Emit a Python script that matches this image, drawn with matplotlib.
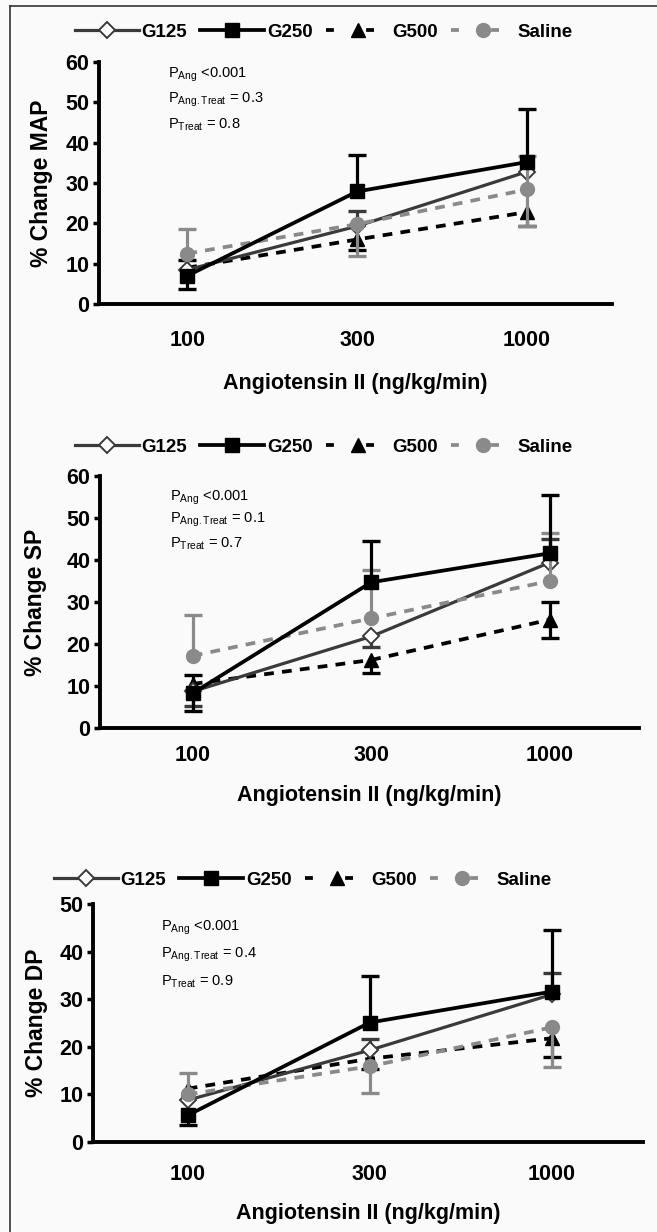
import matplotlib
matplotlib.use('Agg')
import matplotlib.pyplot as plt
from matplotlib.lines import Line2D

plt.rcParams['font.family'] = ['Liberation Sans', 'DejaVu Sans']
plt.rcParams['mathtext.default'] = 'regular'

# ---------------- data ----------------
doses = ['100', '300', '1000']
series = ['G125', 'G250', 'G500', 'Saline']

# % Change MAP
map_g125 = [8.5, 19.3, 32.8]
map_g250 = [7.0, 27.9, 35.2]
map_g500 = [9.0, 16.0, 22.8]
map_sal = [12.5, 19.8, 28.4]
map_g125_up = [0, 3.7, 0]
map_g125_dn = [0, 0, 0]
map_g250_up = [0, 9.0, 13.2]
map_g250_dn = [3.4, 0, 0]
map_g500_up = [2.0, 0, 0]
map_g500_dn = [0, 2.6, 3.5]
map_sal_up = [6.0, 0, 8.4]
map_sal_dn = [0, 7.8, 9.0]

# % Change SP
sp_g125 = [8.7, 21.8, 39.4]
sp_g250 = [8.3, 34.7, 41.6]
sp_g500 = [10.5, 16.2, 25.8]
sp_sal = [17.2, 26.1, 35.0]
sp_g125_up = [0, 0, 5.5]
sp_g125_dn = [3.5, 2.4, 0]
sp_g250_up = [0, 9.9, 13.9]
sp_g250_dn = [4.3, 0, 0]
sp_g500_up = [2.2, 0, 4.1]
sp_g500_dn = [0, 3.1, 4.4]
sp_sal_up = [9.7, 11.5, 11.5]
sp_sal_dn = [0, 0, 0]

# % Change DP
dp_g125 = [8.8, 19.3, 31.0]
dp_g250 = [5.6, 25.1, 31.6]
dp_g500 = [11.2, 17.5, 21.8]
dp_sal = [10.0, 15.9, 24.1]
dp_g125_up = [0, 2.3, 4.6]
dp_g125_dn = [0, 0, 0]
dp_g250_up = [0, 9.8, 13.0]
dp_g250_dn = [2.1, 0, 0]
dp_g500_up = [0, 0, 0]
dp_g500_dn = [0, 2.1, 4.0]
dp_sal_up = [4.4, 0, 0]
dp_sal_dn = [0, 5.6, 8.3]

y_labels = ['% Change MAP', '% Change SP', '% Change DP']
y_max = [60, 60, 50]
stats_text = [
    ['P$_{Ang}$ <0.001', 'P$_{Ang.Treat}$ = 0.3', 'P$_{Treat}$ = 0.8'],
    ['P$_{Ang}$ <0.001', 'P$_{Ang.Treat}$ = 0.1', 'P$_{Treat}$ = 0.7'],
    ['P$_{Ang}$ <0.001', 'P$_{Ang.Treat}$ = 0.4', 'P$_{Treat}$ = 0.9'],
]
x_label = 'Angiotensin II (ng/kg/min)'

panels = [
    [(map_g125, map_g125_up, map_g125_dn), (map_g250, map_g250_up, map_g250_dn),
     (map_g500, map_g500_up, map_g500_dn), (map_sal, map_sal_up, map_sal_dn)],
    [(sp_g125, sp_g125_up, sp_g125_dn), (sp_g250, sp_g250_up, sp_g250_dn),
     (sp_g500, sp_g500_up, sp_g500_dn), (sp_sal, sp_sal_up, sp_sal_dn)],
    [(dp_g125, dp_g125_up, dp_g125_dn), (dp_g250, dp_g250_up, dp_g250_dn),
     (dp_g500, dp_g500_up, dp_g500_dn), (dp_sal, dp_sal_up, dp_sal_dn)],
]

# ---------------- styles ----------------
W, H = 657, 1232
styles = {
    'G125': dict(color='#3a3a3a', ls='-', lw=2.3, marker='D', ms=8.5, mfc='white', mec='#3a3a3a', mew=1.4, z=4,
                 leg_ls='-'),
    'G250': dict(color='black', ls='-', lw=2.7, marker='s', ms=10, mfc='black', mec='black', mew=1, z=6,
                 leg_ls='-'),
    'G500': dict(color='black', ls=(0, (2.6, 2.2)), lw=2.7, marker='^', ms=10, mfc='black', mec='black', mew=1, z=3,
                 leg_ls=(0, (2.1, 8.6, 2.1, 30))),
    'Saline': dict(color='#8a8a8a', ls=(0, (2.6, 2.2)), lw=2.7, marker='o', ms=10, mfc='#8a8a8a', mec='#8a8a8a',
                   mew=1, z=5, leg_ls=(0, (2.1, 8.6, 2.1, 30))),
}

# layout in pixels: left, right, top, bottom
axes_px = [(99, 612, 62, 304), (100, 639, 476, 728), (93, 643, 904, 1142)]
legend_px = [(75, 32), (75, 447), (54, 880)]
stats_px = [(168, [75, 100, 125]), (170, [498, 520, 544]), (161, [928, 955, 982])]
ylabel_px = [42, 36, 36]
xtick_pad = [19, 12, 16]
xlabel_px = [383, 795, 1213]

fig = plt.figure(figsize=(W / 100, H / 100), dpi=100, facecolor='#fafafa')

# frame lines
fig.add_artist(Line2D([10 / W, 10 / W], [0, 1 - 6 / H], color='#333333', lw=1.2, transform=fig.transFigure))
fig.add_artist(Line2D([10 / W, 1], [1 - 6 / H, 1 - 6 / H], color='#333333', lw=1.2, transform=fig.transFigure))

xs = list(range(len(doses)))

for i, panel in enumerate(panels):
    l, r, t, b = axes_px[i]
    ax = fig.add_axes([l / W, 1 - b / H, (r - l) / W, (b - t) / H])
    ax.set_facecolor('none')
    handles = []
    for name, (vals, up, dn) in zip(series, panel):
        st = styles[name]
        ecol = st['color']
        for x, v, u, d in zip(xs, vals, up, dn):
            if u > 0:
                ax.vlines(x, v, v + u, color=ecol, lw=2.3, zorder=st['z'] - 0.5)
                ax.plot([x], [v + u], marker='_', ms=13, mew=2.4, color=ecol, zorder=st['z'] - 0.5)
            if d > 0:
                ax.vlines(x, v - d, v, color=ecol, lw=2.3, zorder=st['z'] - 0.5)
                ax.plot([x], [v - d], marker='_', ms=13, mew=2.4, color=ecol, zorder=st['z'] - 0.5)
        ax.plot(xs, vals, color=st['color'], ls=st['ls'], lw=st['lw'], marker=st['marker'],
                ms=st['ms'], mfc=st['mfc'], mec=st['mec'], mew=st['mew'], zorder=st['z'],
                clip_on=False)
        handles.append(Line2D([], [], color=st['color'], ls=st['leg_ls'], lw=st['lw'], marker=st['marker'],
                              ms=st['ms'], mfc=st['mfc'], mec=st['mec'], mew=st['mew'], label=name))

    ax.set_xlim(-0.52, 2.5)
    ax.set_ylim(0, y_max[i])
    ax.set_yticks(range(0, y_max[i] + 1, 10))
    ax.set_xticks(xs)
    ax.set_xticklabels(doses)
    for s in ['top', 'right']:
        ax.spines[s].set_visible(False)
    for s in ['left', 'bottom']:
        ax.spines[s].set_linewidth(2.8)
    ax.tick_params(axis='y', length=4, width=2.5, pad=3, labelsize=15.5)
    ax.tick_params(axis='x', length=0, pad=xtick_pad[i], labelsize=15.5)
    for lab in ax.get_xticklabels() + ax.get_yticklabels():
        lab.set_fontweight('bold')

    ax.set_ylabel(y_labels[i], fontsize=16.5, fontweight='bold')
    ax.yaxis.set_label_coords((ylabel_px[i] - l) / (r - l), 0.5)
    ax.yaxis.label.set_va('center')
    ax.set_xlabel(x_label, fontsize=15.5, fontweight='bold')
    ax.xaxis.set_label_coords(0.5, (b - xlabel_px[i]) / (b - t))
    ax.xaxis.label.set_va('center')

    sx, sys_ = stats_px[i]
    for txt, yy in zip(stats_text[i], sys_):
        fig.text(sx / W, 1 - yy / H, txt, fontsize=10.5, ha='left', va='center')

    lx, ly = legend_px[i]
    ax.legend(handles=handles, loc='center left', bbox_to_anchor=(lx / W, 1 - ly / H),
              bbox_transform=fig.transFigure,
              ncol=4, frameon=False, handlelength=3.4, handletextpad=0.15, columnspacing=0.7,
              borderaxespad=0, borderpad=0, numpoints=1,
              prop={'weight': 'bold', 'size': 13.5})

fig.savefig('out.png', dpi=100, facecolor=fig.get_facecolor())
